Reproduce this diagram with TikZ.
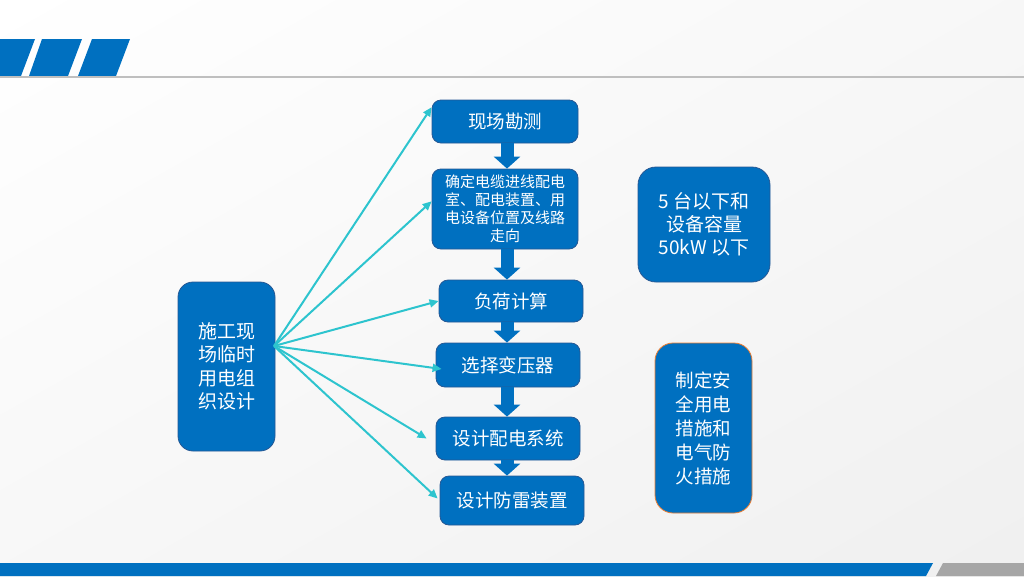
\documentclass[tikz,border=0pt]{standalone}
\usepackage{fontspec}
\setmainfont{Noto Sans CJK SC}
\usetikzlibrary{arrows.meta,positioning,calc,shadings}
\definecolor{boxcolor}{RGB}{0,112,192}
\definecolor{edgecolor}{RGB}{38,88,148}
\definecolor{linkcolor}{RGB}{45,196,206}
\definecolor{firecolor}{RGB}{237,125,49}
\definecolor{rulecolor}{RGB}{191,191,191}
\definecolor{barcolor}{RGB}{166,166,166}

\begin{document}
\begin{tikzpicture}[
    x=1pt, y=-1pt,
    every node/.style={text=white, align=center},
    stepbox/.style={rectangle, draw=edgecolor, fill=boxcolor, rounded corners=9pt, line width=0.8pt, minimum width=146pt, minimum height=43pt, inner sep=2pt, font={\fontsize{18.5}{22}\selectfont}},
    mainbox/.style={rectangle, draw=edgecolor, fill=boxcolor, rounded corners=15pt, line width=0.8pt, inner sep=2pt, font={\fontsize{19}{23.5}\selectfont}},
    link/.style={-{Triangle[length=9pt, width=8pt]}, linkcolor, line width=2pt},
    flow/.style={-{Triangle[length=12pt, width=26pt]}, boxcolor, line width=13pt}
]
    % Background
    \useasboundingbox (0,0) rectangle (1024,576);
    \shade[upper left=white, upper right=black!3, lower left=black!3, lower right=black!6] (0,0) rectangle (1024,576);
    \fill[boxcolor] (0,39) -- (35,39) -- (21,76) -- (0,76) -- cycle;
    \fill[boxcolor] (42,39) -- (82,39) -- (68,76) -- (29,76) -- cycle;
    \fill[boxcolor] (92,39) -- (130,39) -- (116,76) -- (78,76) -- cycle;
    \fill[rulecolor] (0,75.8) rectangle (1024,78.3);
    \fill[boxcolor] (0,563) -- (933,563) -- (926,576) -- (0,576) -- cycle;
    \fill[barcolor] (943,563) -- (1024,563) -- (1024,576) -- (936,576) -- cycle;

    % Nodes
    \node[mainbox, minimum width=97pt, minimum height=169pt] (plan) at (226.5,366.5) {施工现\\场临时\\用电组\\织设计};
    \node[stepbox] (survey) at (505,121.5) {现场勘测};
    \node[stepbox, minimum height=80pt, font={\fontsize{15}{18}\selectfont}] (cable) at (505,209) {确定电缆进线配电\\室、配电装置、用\\电设备位置及线路\\走向};
    \node[stepbox, minimum width=144pt, minimum height=42pt] (load) at (511,301) {负荷计算};
    \node[stepbox, minimum width=144pt, minimum height=44pt] (trans) at (508,365) {选择变压器};
    \node[stepbox, minimum width=144pt, minimum height=43pt] (system) at (508,438.5) {设计配电系统};
    \node[stepbox, minimum width=144pt, minimum height=49pt] (guard) at (512,500.5) {设计防雷装置};
    \node[mainbox, rounded corners=18pt, minimum width=132pt, minimum height=115pt, font={\fontsize{19}{23}\selectfont}] (limit) at (704,224.5) {5 台以下和\\设备容量\\50kW 以下};
    \node[mainbox, draw=firecolor, rounded corners=18pt, minimum width=97pt, minimum height=170pt, font={\fontsize{18.5}{24}\selectfont}] (safety) at (703.5,428) {制定安\\全用电\\措施和\\电气防\\火措施};

    \coordinate (hub) at (274,346);

    % Edges
    \draw[link] (hub) -- (survey.169);
    \draw[link] (hub) -- (cable.174);
    \draw[link] (hub) -- (load.west);
    \draw[link] (hub) -- ([xshift=6pt, yshift=-4pt]trans.west);
    \draw[link] (hub) -- ([xshift=-9pt]system.west);
    \draw[link] (hub) -- ([xshift=-2pt, yshift=2pt]guard.west);

    \draw[flow] ([xshift=2pt]survey.south) -- ([xshift=2pt]survey.south |- cable.north);
    \draw[flow] ([xshift=2pt]cable.south) -- ([xshift=2pt]cable.south |- load.north);
    \draw[flow] ([xshift=-4pt]load.south) -- ([xshift=-4pt]load.south |- trans.north);
    \draw[flow] ([xshift=-1pt]trans.south) -- ([xshift=-1pt]trans.south |- system.north);
    \draw[flow] ([xshift=-1pt]system.south) -- ([xshift=-1pt]system.south |- guard.north);
\end{tikzpicture}
\end{document}
